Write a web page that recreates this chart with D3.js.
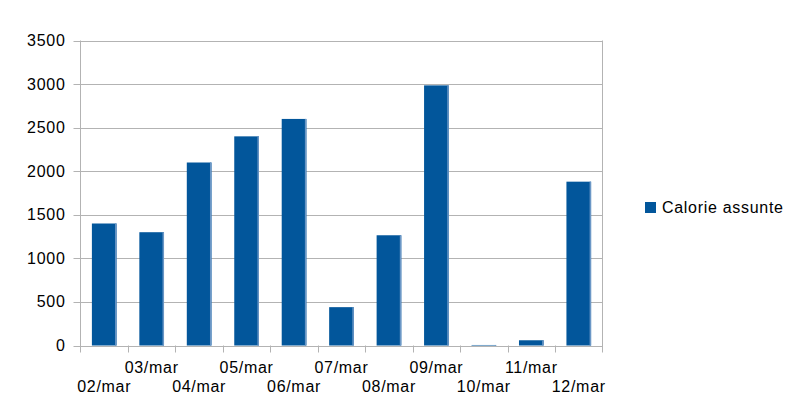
<html lang="it">
  <head>
    <title>Calorie assunte</title>
    <script src="https://d3js.org/d3.v7.min.js"></script>
    <style>
      body { margin: 0; background: #fff; }
      #chart text { font-family: "Liberation Sans", Arial, sans-serif; font-size: 16px; letter-spacing: 0.7px; fill: #000; }
      #chart .grid line { stroke: #b3b3b3; stroke-width: 1; }
    </style>
  </head>
  <body>
    <svg id="chart" width="793" height="411"></svg>
    <script>
      const days = ['02/mar', '03/mar', '04/mar', '05/mar', '06/mar', '07/mar',
                    '08/mar', '09/mar', '10/mar', '11/mar', '12/mar']
      const calories = [1400, 1300, 2100, 2400, 2600, 440, 1265, 2985, 6, 60, 1880]
      const yTicks = [0, 500, 1000, 1500, 2000, 2500, 3000, 3500]
      const seriesName = 'Calorie assunte'

      const svg = d3.select('#chart')
      const plotLeft = 80.5, plotRight = 602.5, plotTop = 40.5, plotBottom = 345.5

      const x = d3.scaleBand().domain(days).range([plotLeft, plotRight]).paddingInner(0.48).paddingOuter(0.24)
      const band = d3.scaleBand().domain(days).range([plotLeft, plotRight])
      const y = d3.scaleLinear().domain([0, 3500]).range([plotBottom, plotTop])

      // grid lines, with short ticks left of the axis
      const grid = svg.append('g').attr('class', 'grid')
      grid.selectAll('line.h')
        .data(yTicks).join('line')
        .attr('x1', plotLeft - 7).attr('x2', plotRight)
        .attr('y1', d => Math.round(y(d)) + 0.5).attr('y2', d => Math.round(y(d)) + 0.5)

      // frame sides (extend below to tick length)
      grid.append('line').attr('x1', plotLeft).attr('x2', plotLeft).attr('y1', plotTop).attr('y2', plotBottom + 7)
      grid.append('line').attr('x1', plotRight).attr('x2', plotRight).attr('y1', plotTop).attr('y2', plotBottom + 7)

      // category ticks
      grid.selectAll('line.t')
        .data(days.slice(1)).join('line')
        .attr('x1', d => Math.round(band(d)) + 0.5).attr('x2', d => Math.round(band(d)) + 0.5)
        .attr('y1', plotBottom).attr('y2', plotBottom + 7)

      // bars
      const bars = svg.append('g')
      bars.selectAll('rect.bar')
        .data(calories).join('rect')
        .attr('x', (d, i) => x(days[i]))
        .attr('width', x.bandwidth())
        .attr('y', d => y(d))
        .attr('height', d => plotBottom - y(d))
        .attr('fill', '#02569b')
      bars.selectAll('rect.edge')
        .data(calories).join('rect')
        .attr('x', (d, i) => x(days[i]) + x.bandwidth() - 1.5)
        .attr('width', 1.5)
        .attr('y', d => y(d))
        .attr('height', d => plotBottom - y(d))
        .attr('fill', '#6b97c6')

      // y labels
      svg.append('g').selectAll('text')
        .data(yTicks).join('text')
        .attr('x', 65.5)
        .attr('y', d => y(d) + 5.5)
        .attr('text-anchor', 'end')
        .text(d => d)

      // x labels, staggered
      svg.append('g').selectAll('text')
        .data(days).join('text')
        .attr('x', d => band(d) + band.bandwidth() / 2)
        .attr('y', (d, i) => i % 2 === 1 ? 373 : 392)
        .attr('text-anchor', 'middle')
        .text(d => d)

      // legend
      const legend = svg.append('g').attr('transform', 'translate(645,202)')
      legend.append('rect').attr('width', 11).attr('height', 11).attr('fill', '#02569b')
      legend.append('text').attr('x', 17).attr('y', 11).text(seriesName)
    </script>
  </body>
</html>
